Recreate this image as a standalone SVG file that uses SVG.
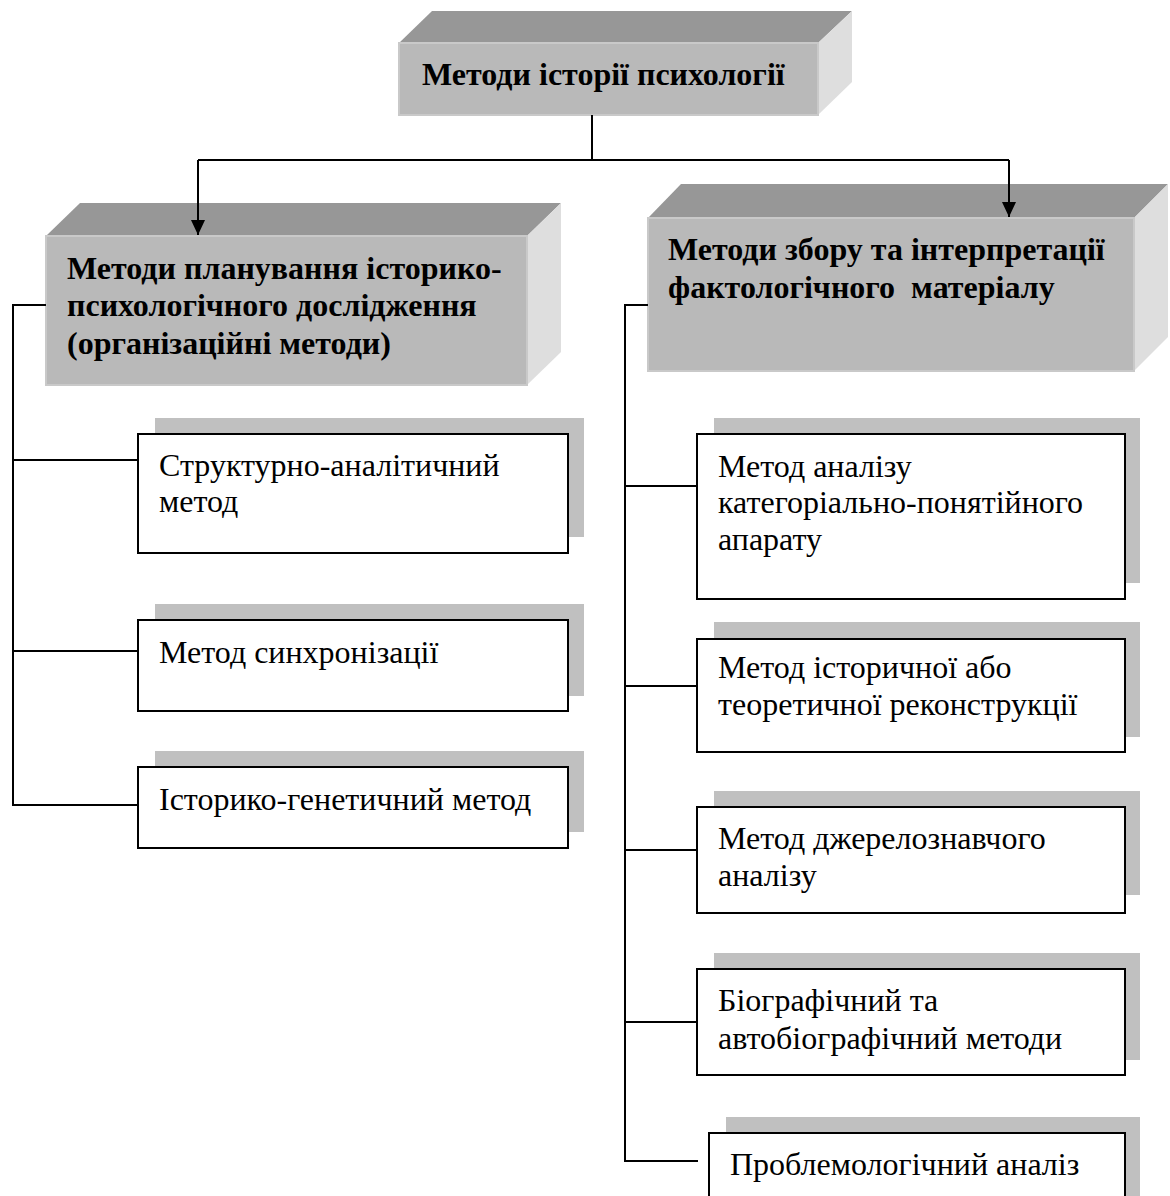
<svg xmlns="http://www.w3.org/2000/svg" width="1170" height="1196" viewBox="0 0 1170 1196">
<defs>
<style>
.front{fill:#b9b9b9;stroke:#c9c9c9;stroke-width:2}
.top{fill:#979797}
.side{fill:#dedede}
.shadow{fill:#c0c0c0}
.box{fill:#ffffff;stroke:#000;stroke-width:2}
.hd{font-family:"Liberation Serif","Times New Roman",serif;font-weight:bold;font-size:32px;fill:#000;white-space:pre}
.tx{font-family:"Liberation Serif","Times New Roman",serif;font-size:32px;fill:#000;white-space:pre}
.ln{fill:none;stroke:#000;stroke-width:2}
</style>
<marker id="arr" markerWidth="16" markerHeight="16" refX="15" refY="8" orient="auto" markerUnits="userSpaceOnUse">
<path d="M0,1 L15,8 L0,15 Z" fill="#000"/>
</marker>
</defs>
<g id="root">
<polygon class="top" points="399,43 432,11 852,11 818,43"/>
<polygon class="side" points="818,43 852,11 852,82 818,115"/>
<rect class="front" x="399" y="43" width="419" height="72"/>
<text class="hd" x="422" y="85">Методи історії психології</text>
</g>
<g id="planning">
<polygon class="top" points="46,236 80,203 561,203 527,236"/>
<polygon class="side" points="527,236 561,203 561,352 527,385"/>
<rect class="front" x="46" y="236" width="481" height="149"/>
<text class="hd" x="67" y="279">Методи планування історико-</text>
<text class="hd" x="67" y="316">психологічного дослідження</text>
<text class="hd" x="67" y="354">(організаційні методи)</text>
</g>
<g id="collection">
<polygon class="top" points="648,218 681,184 1168,184 1134,218"/>
<polygon class="side" points="1134,218 1168,184 1168,337 1134,371"/>
<rect class="front" x="648" y="218" width="486" height="153"/>
<text class="hd" x="668" y="260">Методи збору та інтерпретації</text>
<text class="hd" x="668" y="298">фактологічного  матеріалу</text>
</g>
<g id="structural">
<rect class="shadow" x="155" y="418" width="429" height="119"/>
<rect class="box" x="138" y="434" width="430" height="119"/>
<text class="tx" x="159" y="476">Структурно-аналітичний</text>
<text class="tx" x="159" y="512">метод</text>
</g>
<g id="synchronization">
<rect class="shadow" x="155" y="604" width="429" height="92"/>
<rect class="box" x="138" y="620" width="430" height="91"/>
<text class="tx" x="159" y="663">Метод синхронізації</text>
</g>
<g id="genetic">
<rect class="shadow" x="155" y="751" width="429" height="81"/>
<rect class="box" x="138" y="767" width="430" height="81"/>
<text class="tx" x="159" y="810">Історико-генетичний метод</text>
</g>
<g id="categorical">
<rect class="shadow" x="714" y="418" width="426" height="165"/>
<rect class="box" x="697" y="434" width="428" height="165"/>
<text class="tx" x="718" y="477">Метод аналізу</text>
<text class="tx" x="718" y="513">категоріально-понятійного</text>
<text class="tx" x="718" y="550">апарату</text>
</g>
<g id="reconstruction">
<rect class="shadow" x="714" y="622" width="426" height="115"/>
<rect class="box" x="697" y="639" width="428" height="113"/>
<text class="tx" x="718" y="678">Метод історичної або</text>
<text class="tx" x="718" y="715">теоретичної реконструкції</text>
</g>
<g id="source">
<rect class="shadow" x="714" y="791" width="426" height="104"/>
<rect class="box" x="697" y="807" width="428" height="106"/>
<text class="tx" x="718" y="849">Метод джерелознавчого</text>
<text class="tx" x="718" y="886">аналізу</text>
</g>
<g id="biographical">
<rect class="shadow" x="714" y="953" width="426" height="107"/>
<rect class="box" x="697" y="969" width="428" height="106"/>
<text class="tx" x="718" y="1011">Біографічний та</text>
<text class="tx" x="718" y="1049">автобіографічний методи</text>
</g>
<g id="problem">
<rect class="shadow" x="726" y="1117" width="414" height="90"/>
<rect class="box" x="709" y="1133" width="416" height="90"/>
<text class="tx" x="730" y="1175">Проблемологічний аналіз</text>
</g>
<g id="connectors">
<path class="ln" d="M592,115 V160"/>
<path class="ln" d="M198,160 H1009"/>
<path class="ln" d="M198,160 V235" marker-end="url(#arr)"/>
<path class="ln" d="M1009,160 V217" marker-end="url(#arr)"/>
<path class="ln" d="M46,305 H13 V805 H138"/>
<path class="ln" d="M13,460 H138"/>
<path class="ln" d="M13,651 H138"/>
<path class="ln" d="M648,305 H625 V1161 H698"/>
<path class="ln" d="M625,486 H697"/>
<path class="ln" d="M625,686 H697"/>
<path class="ln" d="M625,850 H697"/>
<path class="ln" d="M625,1022 H697"/>
</g>
</svg>
